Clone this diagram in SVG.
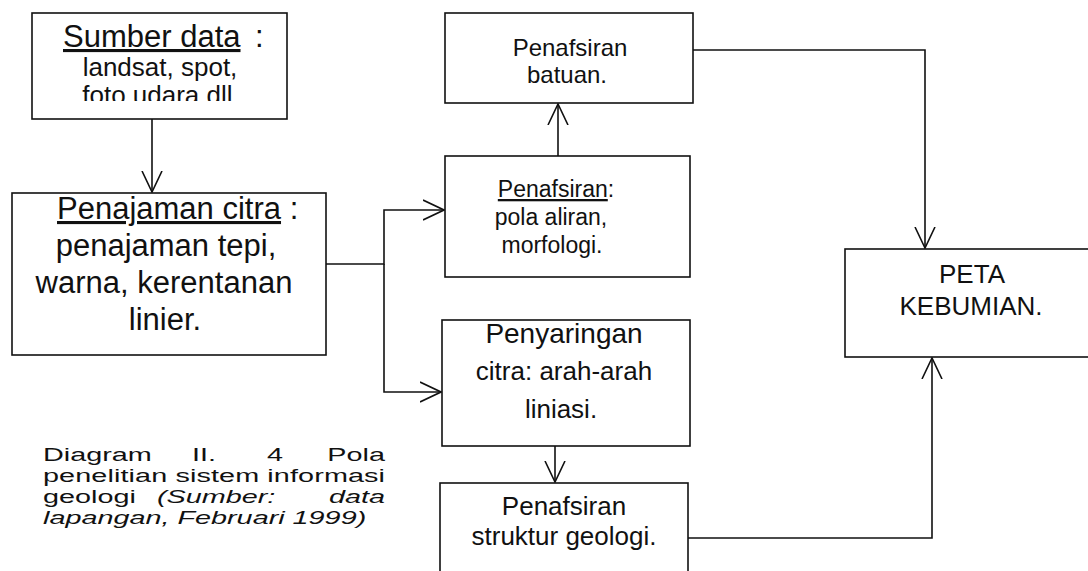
<svg xmlns="http://www.w3.org/2000/svg" width="1088" height="571" viewBox="0 0 1088 571">
<style>
  .box{fill:#fff;stroke:#111;stroke-width:1.6}
  .t{font-family:"Liberation Sans",Arial,sans-serif;fill:#111}
  .c{text-anchor:middle}
  .u{text-decoration:underline}
  .con{fill:none;stroke:#111;stroke-width:1.6}
  .i{font-style:italic}
</style>
<defs>
  <marker id="ah" markerUnits="userSpaceOnUse" viewBox="0 0 22 22" refX="21" refY="11" markerWidth="22" markerHeight="22" orient="auto">
    <path d="M0,1 L21,11 L0,21" fill="none" stroke="#111" stroke-width="1.6"/>
  </marker>
  <clipPath id="clip1"><rect x="32" y="13" width="255" height="88"/></clipPath>
</defs>
<rect width="1088" height="571" fill="#fff"/>

<g id="connectors">
  <path class="con" d="M152,119 V192" marker-end="url(#ah)"/>
  <path class="con" d="M326,264 H384 V210 H444" marker-end="url(#ah)"/>
  <path class="con" d="M384,264 V392 H441" marker-end="url(#ah)"/>
  <path class="con" d="M558,156 V104" marker-end="url(#ah)"/>
  <path class="con" d="M555,446 V482" marker-end="url(#ah)"/>
  <path class="con" d="M693,50 H925 V248" marker-end="url(#ah)"/>
  <path class="con" d="M688,538 H932 V358" marker-end="url(#ah)"/>
</g>

<g id="sumber">
  <rect class="box" x="32" y="13" width="255" height="106"/>
  <text class="t" x="63" y="47" font-size="31"><tspan class="u">Sumber data</tspan><tspan x="255">:</tspan></text>
  <text class="t c" x="160" y="76" font-size="26">landsat, spot,</text>
  <text class="t c" x="161" y="104" font-size="26" clip-path="url(#clip1)">foto udara dll.</text>
</g>

<g id="penajaman">
  <rect class="box" x="12" y="193" width="314" height="162"/>
  <text class="t" x="57" y="219" font-size="31"><tspan class="u">Penajaman citra</tspan> :</text>
  <text class="t c" x="166" y="256" font-size="31">penajaman tepi,</text>
  <text class="t c" x="164" y="293" font-size="31">warna, kerentanan</text>
  <text class="t c" x="165" y="330" font-size="31">linier.</text>
</g>

<g id="batuan">
  <rect class="box" x="445" y="13" width="248" height="90"/>
  <text class="t c" x="570" y="56" font-size="24">Penafsiran</text>
  <text class="t c" x="567" y="83" font-size="24">batuan.</text>
</g>

<g id="penafsiran">
  <rect class="box" x="445" y="156" width="245" height="121"/>
  <text class="t c" x="556" y="197" font-size="23"><tspan class="u">Penafsiran</tspan>:</text>
  <text class="t c" x="551" y="225" font-size="23">pola aliran,</text>
  <text class="t c" x="552" y="253" font-size="23">morfologi.</text>
</g>

<g id="penyaringan">
  <rect class="box" x="442" y="320" width="248" height="126"/>
  <text class="t c" x="564" y="343" font-size="28">Penyaringan</text>
  <text class="t c" x="564" y="380" font-size="26">citra: arah-arah</text>
  <text class="t c" x="561" y="418" font-size="26">liniasi.</text>
</g>

<g id="struktur">
  <rect class="box" x="440" y="483" width="248" height="100"/>
  <text class="t c" x="564" y="515" font-size="26">Penafsiran</text>
  <text class="t c" x="564" y="545" font-size="26">struktur geologi.</text>
</g>

<g id="peta">
  <rect class="box" x="845" y="249" width="255" height="108"/>
  <text class="t c" x="972" y="283" font-size="26">PETA</text>
  <text class="t c" x="971" y="315" font-size="26">KEBUMIAN.</text>
</g>

<g id="caption" transform="translate(43 0) scale(1.6 1)">
  <text class="t" y="461" font-size="18"><tspan x="0">Diagram</tspan><tspan x="93.1">II.</tspan><tspan x="140">4</tspan></text>
  <text class="t" x="213.75" y="461" font-size="18" text-anchor="end">Pola</text>
  <text class="t" x="0" y="482" font-size="18" textLength="213.75" lengthAdjust="spacing">penelitian sistem informasi</text>
  <text class="t" y="503" font-size="18"><tspan x="0">geologi</tspan><tspan x="71.25" class="i">(Sumber:</tspan></text>
  <text class="t i" x="213.75" y="503" font-size="18" text-anchor="end">data</text>
  <text class="t i" x="0" y="524" font-size="18">lapangan, Februari 1999)</text>
</g>
</svg>
